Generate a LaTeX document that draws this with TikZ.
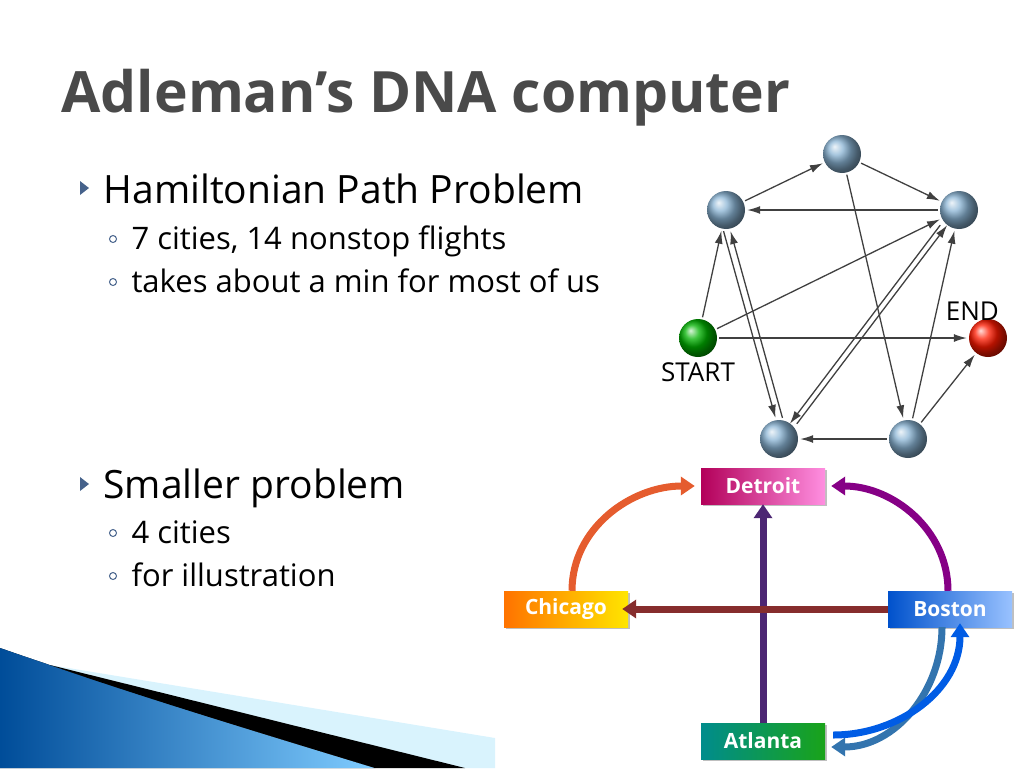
\documentclass[tikz,border=0pt]{standalone}
\usepackage{fontspec}
\setmainfont{Open Sans}
\usetikzlibrary{positioning,shadows,arrows.meta}
\definecolor{titlegray}{HTML}{4A4A4A}
\definecolor{cityblue}{HTML}{8AB4D4}
\begin{document}
\begin{tikzpicture}[x=1pt,y=-1pt,
city/.style={circle,minimum size=38pt,inner sep=0pt,shading=ball,ball color=cityblue},
flight/.style={-{Latex[length=13pt,width=8pt]},draw=black!75,line width=1.3pt,shorten >=2pt,shorten <=2pt},
stop/.style={minimum width=124pt,minimum height=36pt,inner sep=0pt,text=white,font=\bfseries\fontsize{21}{22}\selectfont,drop shadow={shadow xshift=2pt,shadow yshift=-2pt,opacity=.5}},
route/.style={-{Triangle[length=14pt,width=18pt]},line width=7pt}]
\useasboundingbox (0,0) rectangle (1024,768);
% corner decoration
\fill[cyan!15!white] (50,665) -- (495,738) -- (495,768) -- (420,768) -- cycle;
\fill[left color=cyan!50!blue!60!black,right color=cyan!60!blue!50] (0,648) .. controls (150,700) and (300,745) .. (375,768) -- (0,768) -- cycle;
\fill[black] (50,665) -- (465,768) -- (375,768) .. controls (300,745) and (150,700) .. (50,665) -- cycle;
% text
\node[anchor=base west,text=titlegray,font=\bfseries\fontsize{57}{60}\selectfont] (title) at (58,112) {Adleman’s DNA computer};
\node[anchor=base west,font=\fontsize{39}{40}\selectfont] (hpp) at (100,203) {Hamiltonian Path Problem};
\node[anchor=base west,font=\fontsize{31}{32}\selectfont] (hppa) at (128,249) {7 cities, 14 nonstop flights};
\node[anchor=base west,font=\fontsize{31}{32}\selectfont] (hppb) at (128,292) {takes about a min for most of us};
\node[anchor=base west,font=\fontsize{39}{40}\selectfont] (small) at (100,498) {Smaller problem};
\node[anchor=base west,font=\fontsize{31}{32}\selectfont] (smalla) at (128,543) {4 cities};
\node[anchor=base west,font=\fontsize{31}{32}\selectfont] (smallb) at (128,586) {for illustration};
\foreach \y in {188,484} \fill[cyan!50!blue!60!black] (80,\y-7) -- (89,\y) -- (80,\y+7) -- cycle;
\foreach \y in {239,282,533,576} \draw[cyan!50!blue!60!black,line width=1pt] (113,\y) circle (3.5pt);
% seven cities
\node[city] (top) at (842,154) {};
\node[city] (ul) at (726,210) {};
\node[city] (ur) at (959,210) {};
\node[city,ball color=green!70!black] (start) at (698,338) {};
\node[city,ball color=red!80!orange] (end) at (988,338) {};
\node[city] (bl) at (779,439) {};
\node[city] (br) at (908,439) {};
\node[above left=0pt and -28pt of end,font=\fontsize{26}{28}\selectfont] (endlbl) {END};
\node[below=2pt of start,font=\fontsize{26}{28}\selectfont] (startlbl) {START};
\draw[flight] (ul) -- (top);
\draw[flight] (top) -- (ur);
\draw[flight] (ur) -- (ul);
\draw[flight] (start) -- (ul);
\draw[flight] (start) -- (ur);
\draw[flight] (start) -- (end);
\draw[flight] ([xshift=-3pt]ul.south) -- ([xshift=-3pt]bl.north);
\draw[flight] ([xshift=4pt]bl.north) -- ([xshift=4pt]ul.south);
\draw[flight] ([xshift=-4pt]ur.south west) -- ([xshift=-4pt]bl.north east);
\draw[flight] ([xshift=3pt]bl.north east) -- ([xshift=3pt]ur.south west);
\draw[flight] (top) -- (br);
\draw[flight] (br) -- (ur);
\draw[flight] (br) -- (end);
\draw[flight] (br) -- (bl);
% four cities
\node[stop,left color=magenta!50!red!70!black,right color=magenta!40!pink!80] (detroit) at (763,486) {Detroit};
\node[stop,left color=orange!90!red,right color=yellow!80!orange] (chicago) at (566,609) {Chicago};
\node[stop,left color=blue!60!cyan!80!black,right color=cyan!40!blue!40] (boston) at (950,609) {Boston};
\node[stop,left color=teal!90!cyan,right color=green!60!black!90] (atlanta) at (763,741) {Atlanta};
\draw[route,draw=orange!80!magenta!90!black] ([xshift=6pt]chicago.north) to[out=90,in=180] ([xshift=-6pt]detroit.west);
\draw[route,draw=violet!50!magenta!70!black] ([xshift=-2pt]boston.north) to[out=90,in=0] ([xshift=6pt]detroit.east);
\draw[route,draw=teal!50!magenta!60!black] (atlanta.north) -- (detroit.south);
\draw[route,draw=orange!50!violet!70!black] (boston.west) -- ([xshift=-6pt]chicago.east);
\draw[route,draw=cyan!60!blue!80!black] ([xshift=-8pt]boston.south) to[out=-90,in=0] ([xshift=6pt,yshift=-6pt]atlanta.east);
\draw[route,draw=blue!60!cyan!90!black] ([yshift=6pt,xshift=8pt]atlanta.east) to[out=0,in=-90] ([xshift=10pt,yshift=4pt]boston.south);
\end{tikzpicture}
\end{document}
